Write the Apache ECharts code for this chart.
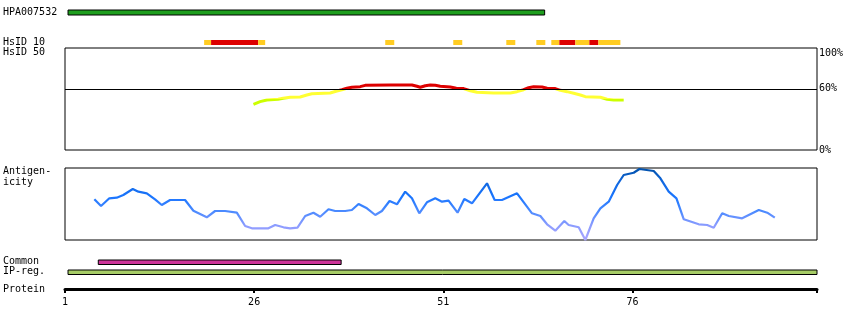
<!DOCTYPE html>
<html>
<head>
<meta charset="utf-8">
<script src="https://cdn.jsdelivr.net/npm/echarts@6/dist/echarts.min.js"></script>
<style>
html,body{margin:0;padding:0;background:#fff;}
#chart{width:850px;height:330px;}
</style>
</head>
<body>
<div id="chart"></div>
<script>
// ---- data ----
const proteinMin = 1;
const proteinMax = 100.4;
const proteinTicks = [1, 26, 51, 76];

const hpaRange = [1.4, 64.4];
const commonRange = [5.4, 37.5];
const ipRegRange = [1.4, 100.4];

const hsidStart = [19.39, 20.31, 26.53, 43.33, 52.32, 59.33, 63.30, 65.28, 66.34, 68.46, 70.31, 71.50];
const hsidEnd   = [20.31, 26.53, 27.46, 44.52, 53.51, 60.52, 64.49, 66.34, 68.46, 70.31, 71.50, 74.41];
const hsidLevel = ['mid', 'high', 'mid', 'mid', 'mid', 'mid', 'mid', 'mid', 'high', 'mid', 'high', 'mid'];

const identPos = [25.91, 26.79, 27.68, 29.17, 29.84, 30.76, 32.08, 32.97, 33.63, 36.05, 36.94, 37.60, 38.26, 38.92, 40.02, 40.68, 43.99, 46.86, 47.52, 47.96, 48.62, 49.28, 49.94, 50.60, 51.93, 52.72, 53.69, 54.57, 55.46, 57.66, 59.86, 60.75, 61.62, 62.28, 62.94, 64.06, 64.72, 65.81, 66.48, 67.36, 68.24, 69.12, 69.78, 71.77, 72.65, 73.53, 74.85];
const identVal = [44.8, 47.4, 49.0, 49.7, 50.7, 51.7, 52.0, 53.9, 55.2, 55.9, 57.8, 59.1, 60.5, 61.5, 62.1, 63.4, 63.7, 63.7, 62.5, 61.5, 63.0, 63.7, 63.4, 62.5, 61.8, 60.5, 60.2, 58.1, 56.6, 55.9, 55.9, 57.2, 59.1, 61.1, 62.1, 61.8, 60.5, 60.2, 58.5, 57.2, 55.6, 53.9, 52.3, 51.7, 49.8, 49.0, 49.0];

const agPos = [4.88, 5.76, 6.86, 7.84, 8.71, 9.96, 10.70, 11.81, 12.90, 13.79, 14.89, 16.87, 17.97, 19.74, 20.84, 22.16, 23.71, 24.81, 25.70, 27.89, 28.78, 29.88, 30.76, 31.73, 32.75, 33.84, 34.73, 35.83, 36.71, 38.04, 38.92, 39.80, 40.91, 42.01, 42.89, 43.90, 44.88, 45.97, 46.86, 47.83, 48.84, 49.94, 50.83, 51.70, 52.89, 53.78, 54.80, 56.78, 57.79, 58.76, 60.75, 62.73, 63.83, 64.72, 65.81, 67.00, 67.57, 68.90, 69.78, 70.88, 71.77, 72.87, 73.98, 74.85, 76.17, 76.93, 78.82, 79.70, 80.80, 81.82, 82.79, 84.77, 85.88, 86.75, 87.87, 88.74, 90.51, 91.38, 92.71, 93.82, 94.82];
const agVal = [40.7, 34, 41.7, 42.3, 45, 51, 48.3, 46.7, 40.7, 35, 40, 40, 29.3, 22.7, 29, 29, 27.3, 14, 11.7, 11.7, 15, 12.7, 11.7, 12.3, 24, 27.3, 23.3, 30.7, 29, 29, 30, 36, 31.7, 25, 29, 39, 35.7, 48.3, 41.7, 26.7, 37.7, 41.7, 38.3, 39.3, 27.3, 41, 36.7, 56.7, 40, 40, 46.7, 26.7, 24, 15.7, 9.3, 19, 15, 12.7, 0, 21.7, 31.7, 38.3, 55, 65, 67.3, 71, 69, 61.7, 48.3, 41.7, 20.7, 15.7, 15, 12.3, 26.7, 24, 21.7, 25, 30, 27.3, 22.3];

const identTicks = [0, 60, 100];

// ---- chart ----
const FONT = 'DejaVu Sans Mono';
const chart = echarts.init(document.getElementById('chart'), null, {renderer: 'canvas'});

const gridDefs = [
  {top: 48, height: 102, show: true},   // 0 identity
  {top: 168, height: 72, show: true},   // 1 antigenicity
  {top: 10, height: 5},                 // 2 HPA bar
  {top: 40, height: 5},                 // 3 HsID 10
  {top: 260, height: 4.5},              // 4 Common
  {top: 270, height: 4.5},              // 5 IP-reg
  {top: 279, height: 10}                // 6 protein axis
];
const grids = gridDefs.map(g => ({
  left: 65, right: 33, top: g.top, height: g.height,
  show: !!g.show, borderColor: '#000', borderWidth: 1, backgroundColor: 'transparent'
}));

const xAxes = gridDefs.map((g, i) => ({
  type: 'value', gridIndex: i, min: proteinMin, max: proteinMax,
  show: i === 6,
  axisLine: {show: i === 6, onZero: false, lineStyle: {color: '#000', width: 3}},
  axisTick: {show: i === 6, length: 4, lineStyle: {color: '#000', width: 2},
             customValues: proteinTicks.concat([proteinMax])},
  axisLabel: {show: i === 6, margin: 8, color: '#000', fontFamily: FONT, fontSize: 10,
              customValues: proteinTicks},
  splitLine: {show: false}
}));

const yAxes = gridDefs.map((g, i) => {
  if (i === 0) {
    return {
      type: 'value', gridIndex: 0, min: 0, max: 100, position: 'right',
      axisLine: {show: false}, axisTick: {show: false},
      splitLine: {show: false},
      axisLabel: {show: true, margin: 2, color: '#000', fontFamily: FONT, fontSize: 10,
        customValues: identTicks, formatter: v => v + '%',
        verticalAlignMaxLabel: 'top', verticalAlignMinLabel: 'middle'}
    };
  }
  return {type: 'value', gridIndex: i, min: i === 1 ? 0 : 0, max: i === 1 ? 72 : 1, show: false,
          splitLine: {show: false}};
});

function rectRenderer(stroke) {
  return function (params, api) {
    const cs = params.coordSys;
    const x0 = api.coord([api.value(0), 0])[0];
    const x1 = api.coord([api.value(1), 0])[0];
    return {
      type: 'rect',
      shape: {x: x0, y: cs.y, width: x1 - x0, height: cs.height},
      style: {fill: api.visual('color'), stroke: stroke ? '#000' : null, lineWidth: stroke ? 1 : 0}
    };
  };
}

const levelColor = {high: '#dd0000', mid: '#ffcc22'};

const series = [
  {
    type: 'line', xAxisIndex: 0, yAxisIndex: 0, name: 'identity',
    data: identPos.map((p, k) => [p, identVal[k]]),
    showSymbol: false, lineStyle: {width: 3}, silent: true,
    markLine: {silent: true, symbol: 'none', label: {show: false},
      lineStyle: {color: '#000', width: 1, type: 'solid'}, data: [{yAxis: 60}]}
  },
  {
    type: 'line', xAxisIndex: 1, yAxisIndex: 1, name: 'antigenicity',
    data: agPos.map((p, k) => [p, agVal[k]]),
    showSymbol: false, lineStyle: {width: 2.2}, silent: true
  },
  {
    type: 'custom', xAxisIndex: 2, yAxisIndex: 2, renderItem: rectRenderer(true),
    itemStyle: {color: '#1e9e1e'}, data: [hpaRange], silent: true
  },
  {
    type: 'custom', xAxisIndex: 3, yAxisIndex: 3, renderItem: rectRenderer(false),
    data: hsidStart.map((s, k) => ({value: [s, hsidEnd[k]], itemStyle: {color: levelColor[hsidLevel[k]]}})),
    silent: true
  },
  {
    type: 'custom', xAxisIndex: 4, yAxisIndex: 4, renderItem: rectRenderer(true),
    itemStyle: {color: '#cc3399'}, data: [commonRange], silent: true
  },
  {
    type: 'custom', xAxisIndex: 5, yAxisIndex: 5, renderItem: rectRenderer(true),
    itemStyle: {color: '#a6cc66'}, data: [ipRegRange], silent: true
  },
  {
    type: 'line', xAxisIndex: 6, yAxisIndex: 6, data: [], silent: true
  }
];

function label(text, y) {
  return {type: 'text', left: 3, top: y, style: {text: text, fill: '#000', font: '10px "' + FONT + '"'}};
}

chart.setOption({
  animation: false,
  backgroundColor: '#fff',
  grid: grids,
  xAxis: xAxes,
  yAxis: yAxes,
  visualMap: [
    {
      type: 'piecewise', show: false, seriesIndex: 0, dimension: 1,
      pieces: [
        {lt: 50, color: '#ccff00'},
        {gte: 50, lt: 60, color: '#ffff33'},
        {gte: 60, color: '#dd0000'}
      ]
    },
    {
      type: 'continuous', show: false, seriesIndex: 1, dimension: 1, min: 0, max: 72,
      inRange: {color: ['#aaa6ff', '#8c9cff', '#4a8aff', '#1a75ff', '#1168e0', '#0050a8']}
    }
  ],
  graphic: [
    label('HPA007532', 7),
    label('HsID 10', 37),
    label('HsID 50', 47),
    label('Antigen-', 166),
    label('icity', 177),
    label('Common', 256),
    label('IP-reg.', 266),
    label('Protein', 284)
  ],
  series: series
});
</script>
</body>
</html>
